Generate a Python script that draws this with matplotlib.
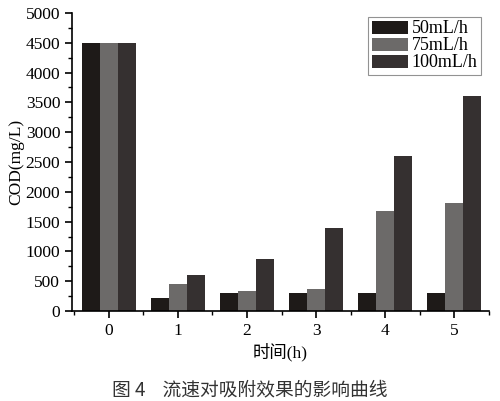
import matplotlib
matplotlib.use("Agg")
import matplotlib.pyplot as plt
import numpy as np
from matplotlib.ticker import MultipleLocator

plt.rcParams['font.family'] = ['Liberation Serif', 'Noto Sans CJK SC']

hours = [0, 1, 2, 3, 4, 5]
series_names = ["50mL/h", "75mL/h", "100mL/h"]
cod_50 = [4500, 220, 300, 310, 300, 300]
cod_75 = [4500, 460, 340, 370, 1670, 1820]
cod_100 = [4500, 610, 870, 1400, 2600, 3600]
colors = ["#1e1a18", "#6c6a69", "#353030"]

fig = plt.figure(figsize=(5.0, 4.01), dpi=100)
ax = fig.add_axes([0.144, 0.2244, 0.834, 0.7432])

x = np.array(hours)
w = 0.26
for i, (vals, name) in enumerate(zip([cod_50, cod_75, cod_100], series_names)):
    ax.bar(x + (i - 1) * w, vals, width=w, color=colors[i], label=name,
           edgecolor='none')

ax.set_xlim(-0.53, 5.5)
ax.set_ylim(0, 5000)
ax.set_xticks(hours)
ax.xaxis.set_minor_locator(MultipleLocator(0.5))
ax.yaxis.set_major_locator(MultipleLocator(500))
ax.yaxis.set_minor_locator(MultipleLocator(250))

for s in ['top', 'right']:
    ax.spines[s].set_visible(False)
for s in ['left', 'bottom']:
    ax.spines[s].set_linewidth(1.2)
ax.tick_params(which='major', direction='out', length=5, width=1.2, labelsize=12.5)
ax.tick_params(which='minor', direction='out', length=3, width=1.0)

ax.set_ylabel("COD(mg/L)", fontsize=12.5, labelpad=1)
ax.set_xlabel("时间(h)", fontsize=12.5, labelpad=3)

leg = ax.legend(loc='upper right', bbox_to_anchor=(0.962, 0.958),
                bbox_transform=fig.transFigure, fontsize=13, frameon=True,
                fancybox=False, handlelength=2.0, handleheight=0.75,
                handletextpad=0.2, borderpad=0.2, labelspacing=0.0,
                borderaxespad=0)
leg.get_frame().set_edgecolor('#777777')
leg.get_frame().set_linewidth(0.8)

fig.text(0.5, 0.027, "图 4    流速对吸附效果的影响曲线", ha='center', va='center',
         fontsize=13.5, family='Noto Sans CJK SC', color='#333333')

fig.savefig("out.png", dpi=100)
